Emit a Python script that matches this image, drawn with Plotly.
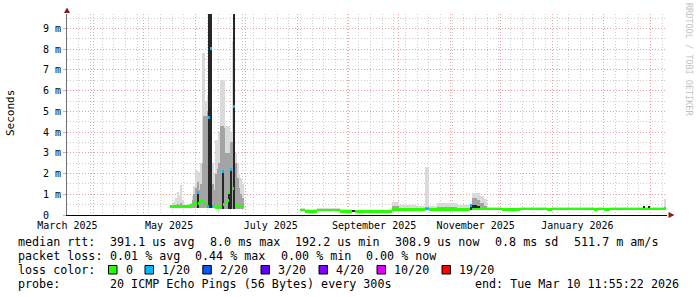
import pandas as pd
import plotly.graph_objects as go

# ------------------------------------------------------------------ data
# one row per RRD sample (start time); a row whose values are all None ends a data segment
sample_start = [
    "2025-05-17", "2025-05-18", "2025-05-19", "2025-05-20", "2025-05-21", "2025-05-22",
    "2025-05-23", "2025-05-24", "2025-05-25", "2025-05-26", "2025-05-27", "2025-05-28",
    "2025-05-29", "2025-05-30", "2025-05-31", "2025-06-01", "2025-06-02", "2025-06-03",
    "2025-06-04", "2025-06-05", "2025-06-06", "2025-06-07", "2025-06-08", "2025-06-09",
    "2025-06-10", "2025-06-11", "2025-06-12", "2025-06-13", "2025-06-14", "2025-06-15",
    "2025-06-16", "2025-06-17", "2025-06-18", "2025-06-19", "2025-06-20", "2025-06-21",
    "2025-06-22", "2025-06-23", "2025-06-24", "2025-06-25", "2025-06-26", "2025-06-27",
    "2025-06-28", "2025-06-29", "2025-06-30",
    "2025-08-03", "2025-08-06", "2025-08-13", "2025-08-27", "2025-09-03", "2025-09-05",
    "2025-09-27", "2025-10-01", "2025-10-12", "2025-10-17", "2025-10-19", "2025-10-24",
    "2025-11-05", "2025-11-13", "2025-11-14", "2025-11-17", "2025-11-19", "2025-11-21",
    "2025-11-23", "2025-12-02", "2025-12-13", "2025-12-29", "2026-01-01", "2026-01-26",
    "2026-01-28", "2026-02-01", "2026-02-05", "2026-02-25", "2026-02-26", "2026-02-28",
    "2026-03-01", "2026-03-09", "2026-03-10 12:00",
]
# median round-trip time (ms)
median_ms = [
    0.40, 0.40, 0.40, 0.40, 0.40, 0.40, 0.40, 0.40, 0.40, 0.40, 0.40, 0.40,
    0.45, 0.50, 0.55, 0.60, 1.07, 0.55, 0.65, 0.72, 0.60, 0.50, 0.40, 4.72,
    8.04, 0.40, 0.40, 0.35, 0.38, 0.38, 0.40, 2.10, 0.50, 0.60, 0.70, 1.07,
    2.20, 1.30, 5.22, 0.45, 0.40, 0.40, 0.42, 0.40, None,
    0.24, 0.19, 0.24, 0.19, None, 0.19,
    0.28, 0.28, 0.28, 0.29, 0.28, 0.28,
    0.28, 0.48, 0.29, 0.29, 0.29, 0.29,
    0.29, 0.26, 0.29, 0.26, 0.29, 0.26,
    0.29, 0.26, 0.29, 0.29, 0.29, 0.29,
    0.29, 0.30, None,
]
# lost pings out of 20
lost_pings = [
    0, 0, 0, 0, 0, 0, 0, 0, 0, 0, 0, 0,
    0, 0, 0, 0, 1, 0, 0, 0, 0, 0, 1, 1,
    1, 1, 0, 0, 0, 0, 0, 1, 0, 0, 0, 0,
    1, 0, 1, 0, 0, 0, 0, 0, None,
    0, 0, 0, 0, 0, 0,
    0, 0, 0, 1, 0, 0,
    0, 1, 0, 0, 0, 0,
    0, 0, 0, 0, 0, 0,
    0, 0, 0, 0, 0, 0,
    0, 0, None,
]
# smoke: fastest ping, slowest ping, and inner ping pairs (ms)
smoke_min_ms = [
    0.33, 0.33, 0.33, 0.33, 0.33, 0.33, 0.33, 0.33, 0.33, 0.33, 0.33, 0.33,
    0.35, 0.35, 0.35, 0.35, 0.35, 0.35, 0.35, 0.35, 0.35, 0.35, 0.33, 0.33,
    0.33, 0.33, 0.33, 0.30, 0.30, 0.30, 0.30, 0.30, 0.30, 0.30, 0.30, 0.30,
    0.30, 0.30, 0.30, 0.30, 0.30, 0.30, 0.30, 0.30, None,
    0.19, 0.17, 0.19, 0.17, 0.17, 0.17,
    0.22, 0.22, 0.22, 0.22, 0.22, 0.22,
    0.22, 0.22, 0.22, 0.22, 0.22, 0.22,
    0.22, 0.20, 0.22, 0.20, 0.22, 0.20,
    0.22, 0.20, 0.22, 0.22, 0.22, 0.22,
    0.22, 0.22, None,
]
smoke_max_ms = [
    0.50, 0.55, 0.65, 0.80, 1.12, 0.90, 1.45, 0.70, 0.55, 0.50, 0.50, 0.55,
    0.60, 0.90, 1.40, 2.20, 2.10, 2.00, 2.50, 7.80, 7.80, 5.50, 5.80, 11.0,
    11.0, 2.50, 2.00, 3.60, 3.60, 4.00, 6.50, 6.50, 6.50, 4.30, 4.30, 4.30,
    4.00, 8.40, 11.0, 3.00, 2.50, 2.00, 1.80, 1.50, None,
    0.36, 0.30, 0.36, 0.28, 0.25, 0.26,
    0.62, 0.50, 0.42, 2.33, 0.45, 0.60,
    0.50, 0.55, 1.05, 1.05, 0.90, 0.75,
    0.38, 0.36, 0.38, 0.36, 0.38, 0.36,
    0.38, 0.36, 0.38, 0.45, 0.38, 0.45,
    0.38, 0.76, None,
]
smoke_mid_ms = [
    None, 0.45, 0.48, 0.50, 0.55, 0.50, 0.60, 0.48, None, None, None, None,
    0.50, 0.70, 1.00, 1.30, 1.60, 1.20, 1.50, 2.50, 4.80, 4.80, 5.00, 11.0,
    11.0, 1.50, 1.20, 2.00, 2.20, 2.50, 4.30, 4.30, 4.20, 3.00, 3.00, 3.00,
    3.50, 3.50, 11.0, 2.50, 1.80, 1.30, 1.00, 0.80, None,
    None, None, None, None, None, None,
    0.45, None, None, 0.40, None, 0.40,
    None, 0.50, 0.80, 0.70, 0.60, 0.45,
    None, None, None, None, None, None,
    None, None, None, None, None, None,
    None, 0.40, None,
]
smoke_core_ms = [
    None, None, None, None, None, None, None, None, None, None, None, None,
    None, None, None, None, 1.10, None, None, None, None, None, None, 11.0,
    11.0, None, None, None, None, None, None, 2.10, None, None, None, 1.07,
    2.20, None, 11.0, None, None, None, None, None, None,
    None, None, None, None, 0.25, None,
    None, None, None, None, None, None,
    None, 0.50, 0.50, 0.45, None, None,
    None, None, None, None, None, None,
    None, None, None, 0.45, None, 0.45,
    None, None, None,
]

loss_levels = [0, 1, 2, 3, 4, 10, 19]
loss_labels = ["0", "1/20", "2/20", "3/20", "4/20", "10/20", "19/20"]
loss_colors = ["#26ff00", "#00b8ff", "#0059ff", "#5e00ff", "#7e00ff", "#dd00ff", "#ff0000"]

y_tick_vals = [0, 1, 2, 3, 4, 5, 6, 7, 8, 9]
y_tick_text = ["0  ", "1 m", "2 m", "3 m", "4 m", "5 m", "6 m", "7 m", "8 m", "9 m"]

month_label_dates = ["2025-03-01", "2025-05-01", "2025-07-01", "2025-09-01", "2025-11-01", "2026-01-01"]
month_label_text = ["March 2025", "May 2025", "July 2025", "September 2025", "November 2025", "January 2026"]

stats_rtt = ["median rtt:", "391.1 us avg", "8.0 ms max", "192.2 us min", "308.9 us now",
             "0.8 ms sd", "511.7 m am/s"]
stats_loss = ["packet loss:", "0.01 % avg", "0.44 % max", "0.00 % min", "0.00 % now"]
probe_text = ["probe:", "20 ICMP Echo Pings (56 Bytes) every 300s"]
end_text = "end: Tue Mar 10 11:55:22 2026"

# ------------------------------------------------------------------ geometry / style
W, H = 697, 297
L, R, T, B = 67, 30, 14, 82
PW, PH = W - L - R, H - T - B
X_RANGE = ["2025-03-16", "2026-03-11"]
Y_RANGE = [0, 9.7]
MONO = "DejaVu Sans Mono"
GRID_MIN = "#cdcdcd"
GRID_MAJ = "#eaa0a0"
SMOKE = {"light": "#dadada", "mid": "#a4a4a4", "core": "#262626"}
MEDIAN_HALF = 0.07


def px(xp):
    return (xp - L) / PW


def py(yp):
    return (T + PH - yp) / PH


def loss_color(n):
    col = loss_colors[0]
    for lvl, c in zip(loss_levels, loss_colors):
        if n >= lvl:
            col = c
    return col


n = len(sample_start)
for arr in (median_ms, lost_pings, smoke_min_ms, smoke_max_ms, smoke_mid_ms, smoke_core_ms):
    assert len(arr) == n, (len(arr), n)

starts = pd.to_datetime(sample_start, format="ISO8601")
centers, widths = [], []
for i in range(n - 1):
    s, e = starts[i], starts[i + 1]
    centers.append(s + (e - s) / 2)
    widths.append((e - s).total_seconds() * 1000)


def band(top_arr):
    xs, ws, bs, hs = [], [], [], []
    for i in range(n - 1):
        if top_arr[i] is None or smoke_min_ms[i] is None:
            continue
        xs.append(centers[i]); ws.append(widths[i])
        bs.append(smoke_min_ms[i]); hs.append(top_arr[i] - smoke_min_ms[i])
    return xs, ws, bs, hs


fig = go.Figure()
for key, arr in (("light", smoke_max_ms), ("mid", smoke_mid_ms), ("core", smoke_core_ms)):
    xs, ws, bs, hs = band(arr)
    fig.add_trace(go.Bar(x=xs, y=hs, base=bs, width=ws, marker_color=SMOKE[key],
                         marker_line_width=0, hoverinfo="skip", showlegend=False))

mx, mw, mb, mh, mc = [], [], [], [], []
for i in range(n - 1):
    if median_ms[i] is None:
        continue
    mx.append(centers[i]); mw.append(widths[i])
    mb.append(median_ms[i] - MEDIAN_HALF); mh.append(2 * MEDIAN_HALF)
    mc.append(loss_color(lost_pings[i]))
fig.add_trace(go.Bar(x=mx, y=mh, base=mb, width=mw, marker_color=mc,
                     marker_line_width=0, hoverinfo="skip", showlegend=False))

# invisible anchor for the label axis
label_pos = pd.to_datetime(month_label_dates) + pd.Timedelta(hours=366)
fig.add_trace(go.Scatter(x=[X_RANGE[0]], y=[0], xaxis="x2", mode="markers",
                         marker=dict(opacity=0), hoverinfo="skip", showlegend=False))

month_grid = pd.date_range("2025-04-01", "2026-03-01", freq="MS")

fig.update_layout(
    width=W, height=H, margin=dict(l=L, r=R, t=T, b=B, pad=0),
    paper_bgcolor="white", plot_bgcolor="white",
    barmode="overlay", bargap=0, showlegend=False,
    font=dict(family=MONO, size=10, color="#000000"),
    xaxis=dict(
        type="date", range=X_RANGE, tickvals=list(month_grid), ticktext=[""] * len(month_grid),
        showgrid=True, gridcolor=GRID_MAJ, griddash="1px,2px", gridwidth=1,
        minor=dict(tick0="2025-03-23", dtick=7 * 86400000, showgrid=True,
                   gridcolor=GRID_MIN, griddash="1px,2px", gridwidth=1),
        ticks="", showline=True, linecolor="#000000", linewidth=1,
        zeroline=False, fixedrange=True, layer="below traces",
    ),
    xaxis2=dict(
        type="date", range=X_RANGE, overlaying="x", anchor="y", side="bottom",
        tickvals=list(label_pos), ticktext=month_label_text, showgrid=False,
        ticks="", ticklen=0, showline=False, zeroline=False, ticklabelstandoff=3,
        tickfont=dict(family=MONO, size=10, color="#000000"),
    ),
    yaxis=dict(
        range=Y_RANGE, tickvals=y_tick_vals,
        ticktext=[t.replace(" ", "\u00a0") for t in y_tick_text],
        showgrid=True, gridcolor=GRID_MAJ, griddash="1px,2px", gridwidth=1,
        minor=dict(dtick=0.5, showgrid=True, gridcolor=GRID_MIN, griddash="1px,2px", gridwidth=1),
        ticks="outside", ticklen=3, tickcolor=GRID_MAJ,
        showline=True, linecolor="#707070", linewidth=1, zeroline=False,
        tickfont=dict(family=MONO, size=10, color="#000000"),
        fixedrange=True, layer="below traces",
    ),
)

shapes = []
# axis arrows
AR = "#8c1a1a"
shapes.append(dict(type="path", xref="paper", yref="paper", fillcolor=AR, line=dict(width=0),
                   path=f"M {px(64)} {py(13)} L {px(70)} {py(13)} L {px(67)} {py(7.5)} Z"))
shapes.append(dict(type="path", xref="paper", yref="paper", fillcolor=AR, line=dict(width=0),
                   path=f"M {px(668.5)} {py(212)} L {px(668.5)} {py(218)} L {px(674.5)} {py(215)} Z"))

annotations = []


def text_at(x, y, s, anchor="left", size=11.7, color="#000000"):
    annotations.append(dict(xref="paper", yref="paper", x=px(x), y=py(y), text=s.replace(" ", "\u00a0"),
                            showarrow=False, xanchor=anchor, yanchor="middle",
                            font=dict(family=MONO, size=size, color=color)))


# axis title and watermark
annotations.append(dict(xref="paper", yref="paper", x=px(10.5), y=py(113.5), text="Seconds",
                        textangle=-90, showarrow=False, xanchor="center", yanchor="middle",
                        font=dict(family=MONO, size=11, color="#000000")))
annotations.append(dict(xref="paper", yref="paper", x=px(689), y=py(59), text="RRDTOOL / TOBI OETIKER",
                        textangle=90, showarrow=False, xanchor="center", yanchor="middle",
                        font=dict(family=MONO, size=8.5, color="#c2c2c2")))

# legend / statistics block
rtt_x = [16, 107.6, 207.6, 293.3, 393.3, 493.3, 572]
for xx, s in zip(rtt_x, stats_rtt):
    text_at(xx, 242, s)
loss_x = [16, 107.6, 193.3, 279, 364.4]
for xx, s in zip(loss_x, stats_loss):
    text_at(xx, 256, s)
text_at(16, 270, "loss color:")
item_x = [123.5, 160, 217.8, 276, 334, 392, 457]
for xx, lab, col in zip(item_x, loss_labels, loss_colors):
    text_at(xx, 270, lab)
    shapes.append(dict(type="rect", xref="paper", yref="paper",
                       x0=px(xx - 15), x1=px(xx - 6.5), y0=py(274), y1=py(265.5),
                       fillcolor=col, line=dict(color="#000000", width=1)))
text_at(16, 284, probe_text[0])
text_at(107.6, 284, probe_text[1])
text_at(681, 284, end_text, anchor="right")

fig.update_layout(shapes=shapes, annotations=annotations)
fig.write_html("out.html", config={"displayModeBar": False})
